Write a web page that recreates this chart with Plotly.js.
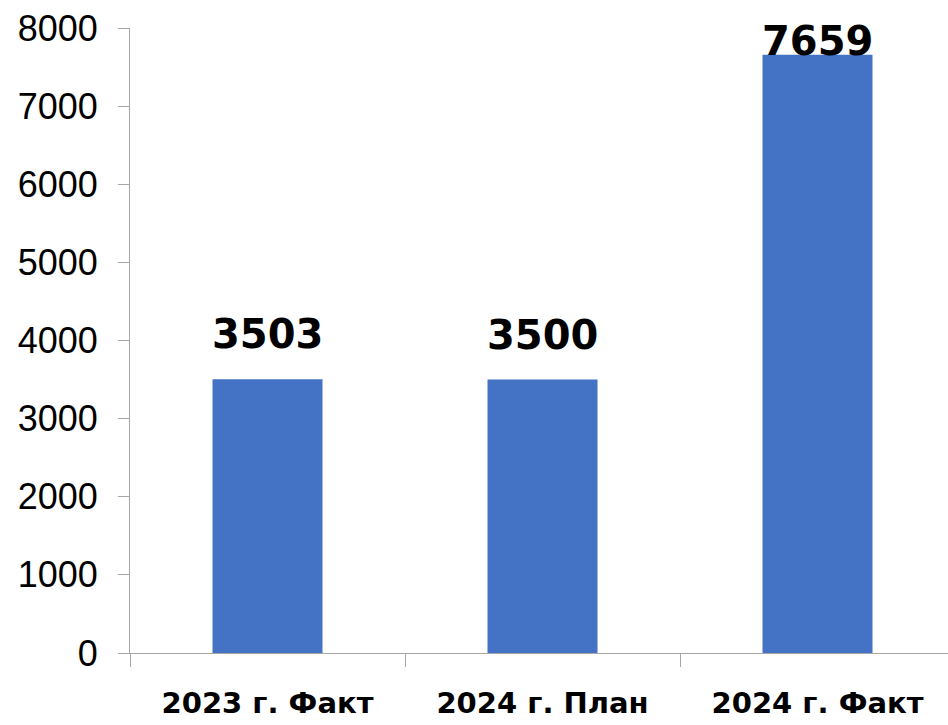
<!DOCTYPE html>
<html><head><meta charset="utf-8">
<script src="https://cdn.plot.ly/plotly-3.0.1.min.js"></script>
<style>html,body{margin:0;padding:0;overflow:hidden;background:#fff}#chart{width:948px;height:725px}</style>
</head><body><div id="chart"></div>
<script>
const categories = ["2023 г. Факт", "2024 г. План", "2024 г. Факт"];
const values = [3503, 3500, 7659];
const yTicks = [0, 1000, 2000, 3000, 4000, 5000, 6000, 7000, 8000];

const Y_MAX = 8000;
const PLOT_TOP = 28, PLOT_BOTTOM = 72, H = 725;
const plotH = H - PLOT_TOP - PLOT_BOTTOM;
const unitsPerPx = Y_MAX / plotH;
const labelOffsetPx = 70; // distance from bar top to label box top
const labelTopLimitPx = 12; // label box may rise this far above plot top
const labelFont = {family: "DejaVu Sans", size: 40, color: "#000", weight: "bold"};

const annotations = values.map((v, i) => {
  const wanted = v + labelOffsetPx * unitsPerPx;
  const clamped = wanted > Y_MAX;
  return {
    x: categories[i],
    y: clamped ? Y_MAX : wanted,
    yshift: clamped ? labelTopLimitPx : 0,
    xref: "x", yref: "y",
    yanchor: "top", xanchor: "center",
    text: String(v), showarrow: false,
    font: labelFont
  };
});

const trace = {
  type: "bar",
  x: categories,
  y: values,
  width: 0.4,
  marker: {color: "#4472C4"},
  hoverinfo: "x+y",
  cliponaxis: false
};

const layout = {
  width: 948, height: 725,
  margin: {l: 130, r: 0, t: PLOT_TOP, b: PLOT_BOTTOM},
  paper_bgcolor: "#fff", plot_bgcolor: "#fff",
  showlegend: false,
  xaxis: {
    type: "category",
    range: [-0.5, 2.4745],
    showline: true, linecolor: "#A6A6A6", linewidth: 1,
    ticks: "outside", tickson: "boundaries", ticklen: 13, tickcolor: "#A6A6A6",
    showgrid: false, zeroline: false,
    tickfont: {family: "DejaVu Sans", size: 29, color: "#000", weight: "bold"},
    ticklabelstandoff: 24
  },
  yaxis: {
    range: [0, Y_MAX],
    tickvals: yTicks, ticktext: yTicks.map(String),
    showline: true, linecolor: "#A6A6A6", linewidth: 1,
    ticks: "outside", ticklen: 11, tickcolor: "#A6A6A6",
    showgrid: false, zeroline: false,
    tickfont: {family: "Liberation Sans", size: 36, color: "#000"},
    ticklabelstandoff: 13
  },
  annotations: annotations
};

Plotly.newPlot("chart", [trace], layout, {displayModeBar: false, staticPlot: true});
</script>
</body></html>
